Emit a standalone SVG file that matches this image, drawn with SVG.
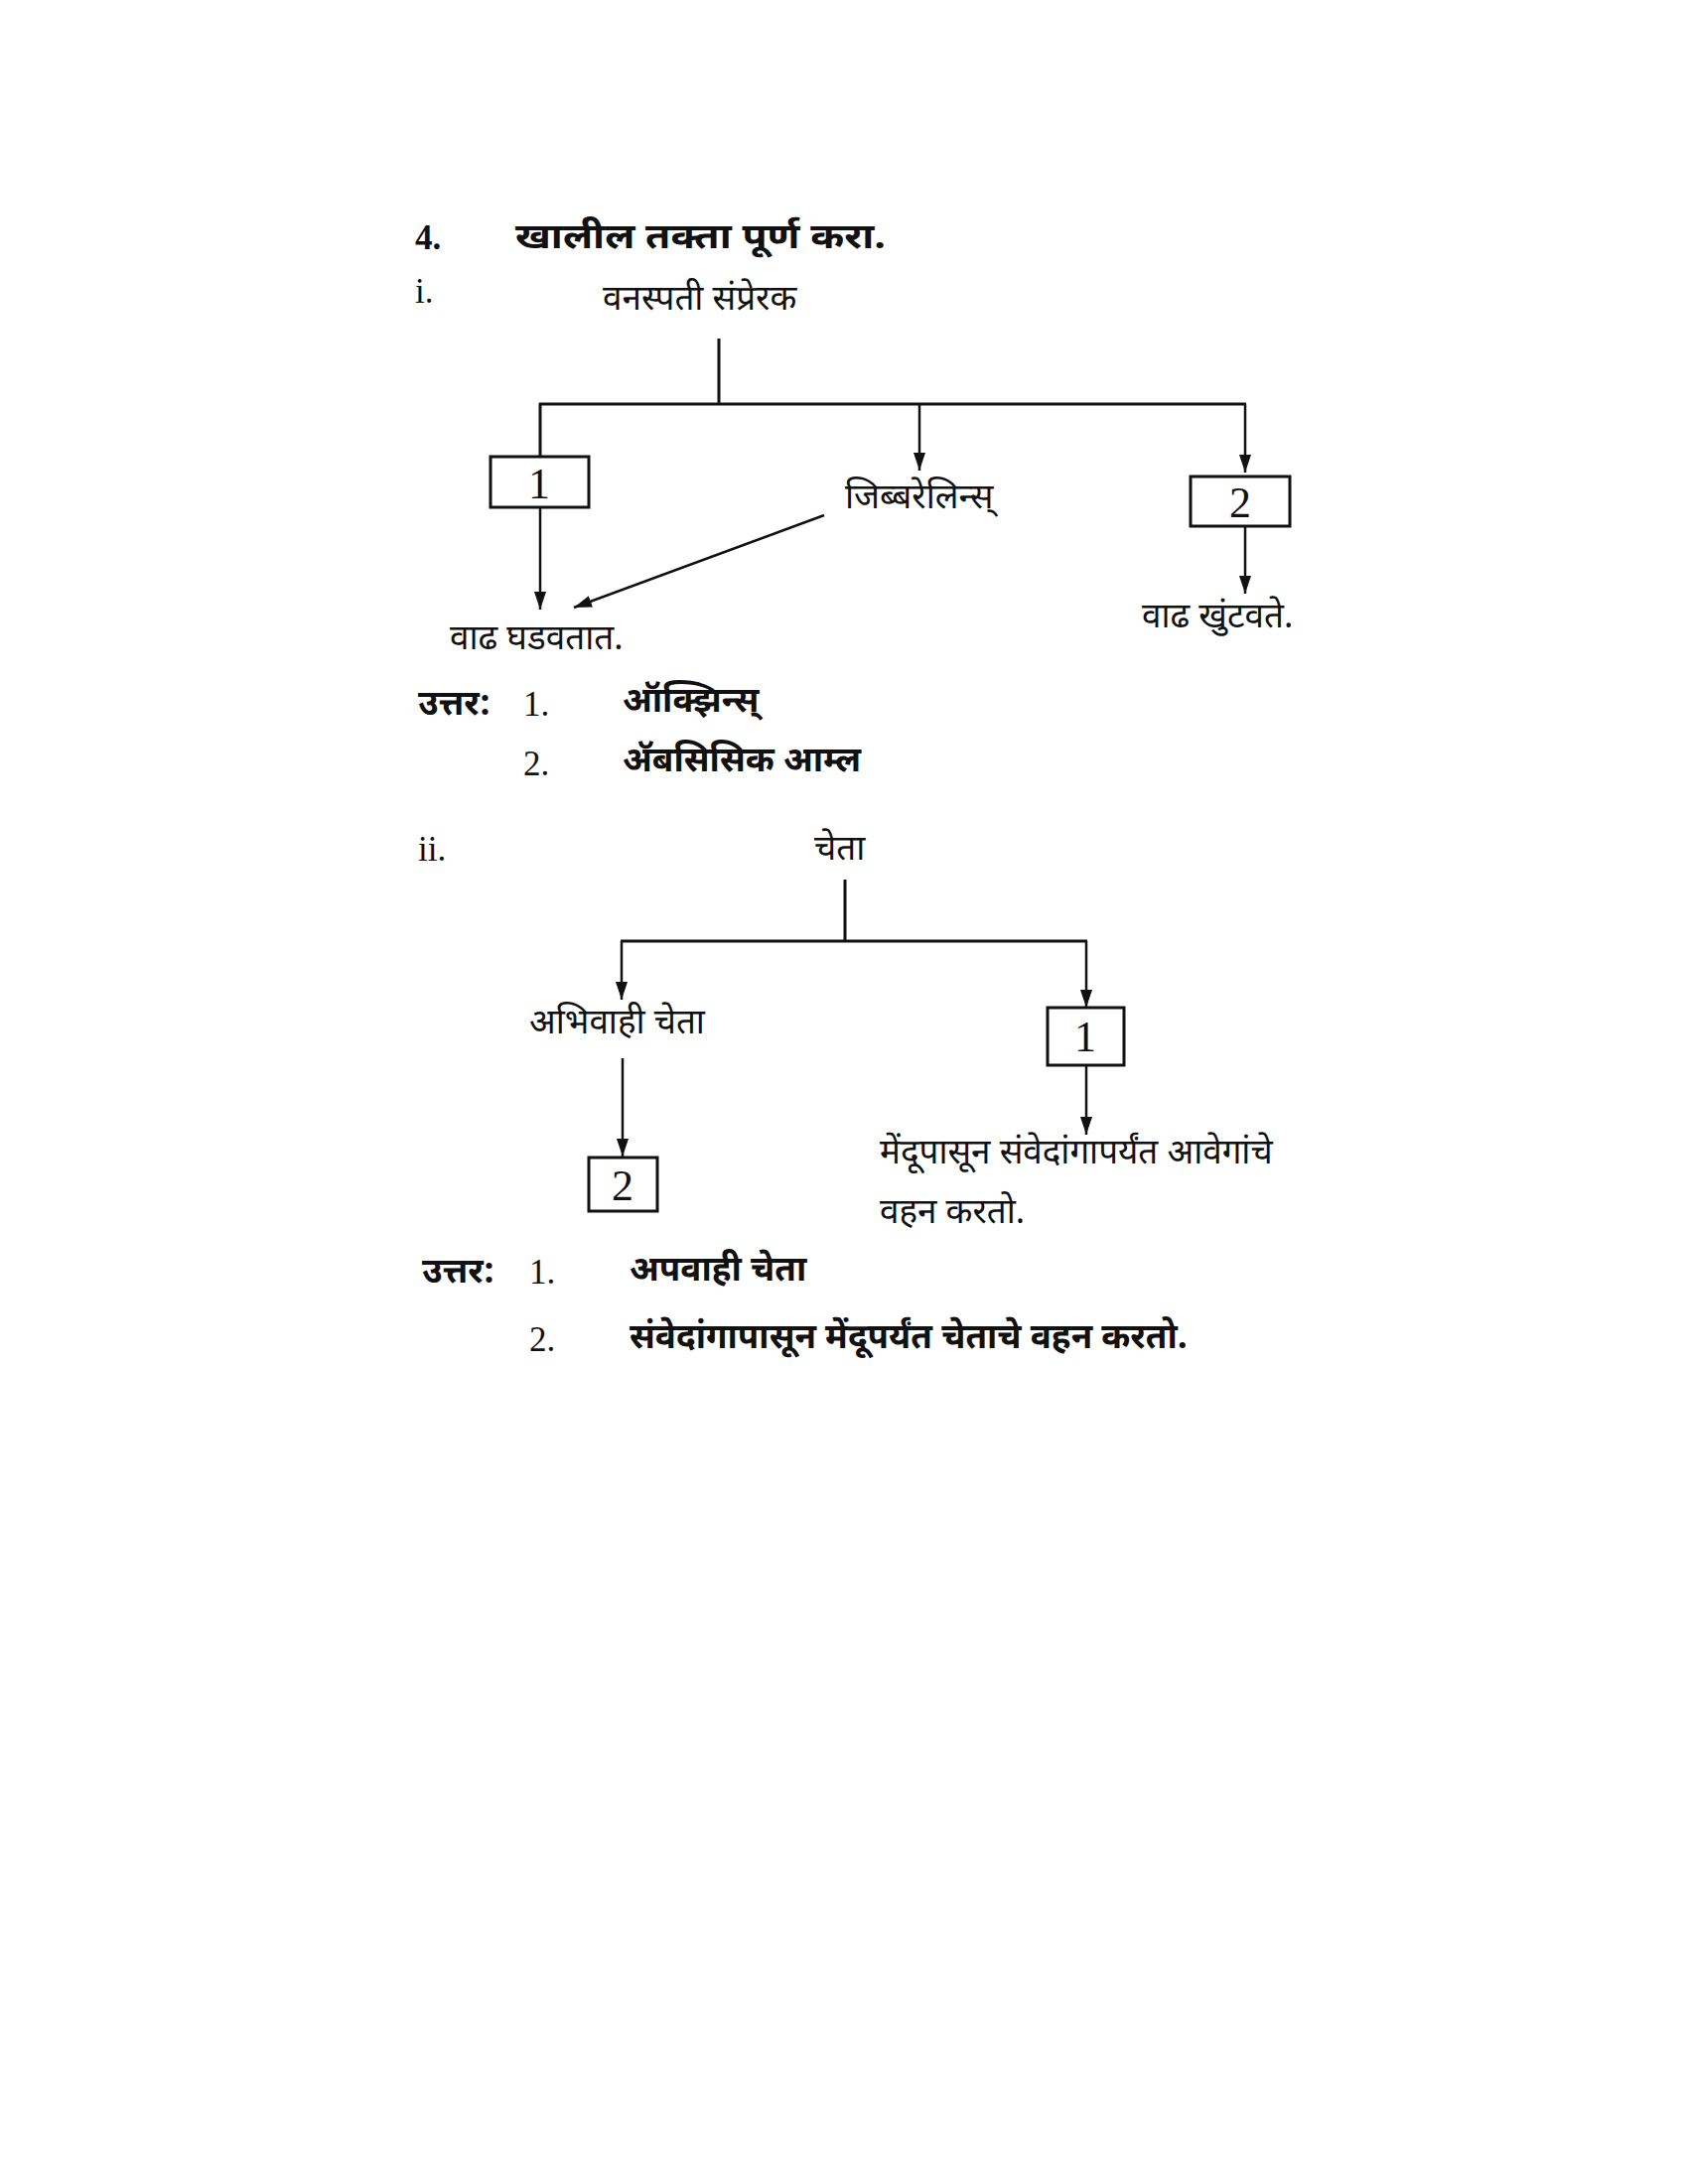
<svg xmlns="http://www.w3.org/2000/svg" width="1700" height="2200" viewBox="0 0 1700 2200">
<defs>
<marker id="ah" viewBox="0 0 18 12" refX="18" refY="6" markerWidth="18" markerHeight="12" markerUnits="userSpaceOnUse" orient="auto">
<path d="M0,0 L18,6 L0,12 z" fill="#111"/>
</marker>
<style>
.dv{font-family:"Noto Sans Devanagari","Noto Serif Devanagari","Lohit Devanagari","Noto Sans","Liberation Serif",serif;font-size:35px;fill:#111}
.b{font-weight:bold}
.lat{font-family:"Liberation Serif",serif;font-size:35px;fill:#111}
.num{font-family:"Liberation Serif",serif;font-size:44px;fill:#111;text-anchor:middle}
.ln{stroke:#111;stroke-width:3;fill:none}
.ar{stroke:#111;stroke-width:2.5;fill:none;marker-end:url(#ah)}
.box{stroke:#111;stroke-width:3;fill:#fff}
</style>
</defs>
<rect width="1700" height="2200" fill="#fff"/>

<g id="heading">
<text class="lat b" x="418" y="251" font-size="36">4.</text>
<text class="dv b" x="519" y="250" font-size="42" textLength="373" lengthAdjust="spacingAndGlyphs">खालील तक्ता पूर्ण करा.</text>
</g>

<g id="part-i-label"><text class="lat" x="418" y="305">i.</text></g>

<g id="n-root1"><text class="dv" x="607" y="312">वनस्पती संप्रेरक</text></g>
<g id="n-box1a"><rect class="box" x="494" y="460" width="99" height="51"/><text class="num" x="543" y="502">1</text></g>
<g id="n-gib"><text class="dv" x="851" y="512">जिब्बरेलिन्स्</text></g>
<g id="n-box2a"><rect class="box" x="1199" y="480" width="100" height="50"/><text class="num" x="1249" y="521">2</text></g>
<g id="n-grow"><text class="dv" x="453" y="654">वाढ घडवतात.</text></g>
<g id="n-stop"><text class="dv" x="1150" y="632">वाढ खुंटवते.</text></g>

<g id="ans-i">
<text class="dv b" x="421" y="720">उत्तर:</text>
<text class="lat" x="527" y="721">1.</text>
<text class="dv b" x="627" y="717">ऑक्झिन्स्</text>
<text class="lat" x="527" y="781">2.</text>
<text class="dv b" x="627" y="777">ॲबसिसिक आम्ल</text>
</g>

<g id="part-ii-label"><text class="lat" x="421" y="867">ii.</text></g>
<g id="n-root2"><text class="dv" x="820" y="866">चेता</text></g>
<g id="n-aff"><text class="dv" x="533" y="1041">अभिवाही चेता</text></g>
<g id="n-box2b"><rect class="box" x="593" y="1166" width="69" height="54"/><text class="num" x="627" y="1209">2</text></g>
<g id="n-box1b"><rect class="box" x="1055" y="1015" width="77" height="58"/><text class="num" x="1093" y="1059">1</text></g>
<g id="n-eff-desc">
<text class="dv" x="886" y="1172">मेंदूपासून संवेदांगापर्यंत आवेगांचे</text>
<text class="dv" x="886" y="1232">वहन करतो.</text>
</g>

<g id="ans-ii">
<text class="dv b" x="425" y="1292">उत्तर:</text>
<text class="lat" x="533" y="1293">1.</text>
<text class="dv b" x="634" y="1290">अपवाही चेता</text>
<text class="lat" x="533" y="1361">2.</text>
<text class="dv b" x="634" y="1358">संवेदांगापासून मेंदूपर्यंत चेताचे वहन करतो.</text>
</g>

<g id="connectors">
<line class="ln" x1="724" y1="341" x2="724" y2="407"/>
<line class="ln" x1="543" y1="407" x2="1255" y2="407" stroke-width="4"/>
<line class="ln" x1="544" y1="406" x2="544" y2="460"/>
<line class="ar" x1="926" y1="407" x2="926" y2="474"/>
<line class="ar" x1="1254" y1="407" x2="1254" y2="476"/>
<line class="ar" x1="544" y1="511" x2="544" y2="614"/>
<line class="ar" x1="830" y1="519" x2="578" y2="612" stroke-width="3"/>
<line class="ar" x1="1254" y1="530" x2="1254" y2="598"/>

<line class="ln" x1="851" y1="886" x2="851" y2="948"/>
<line class="ln" x1="625" y1="948" x2="1095" y2="948" stroke-width="4"/>
<line class="ar" x1="626" y1="948" x2="626" y2="1007"/>
<line class="ar" x1="1094" y1="948" x2="1094" y2="1015"/>
<line class="ar" x1="627" y1="1066" x2="627" y2="1165"/>
<line class="ar" x1="1094" y1="1073" x2="1094" y2="1143"/>
</g>
</svg>
